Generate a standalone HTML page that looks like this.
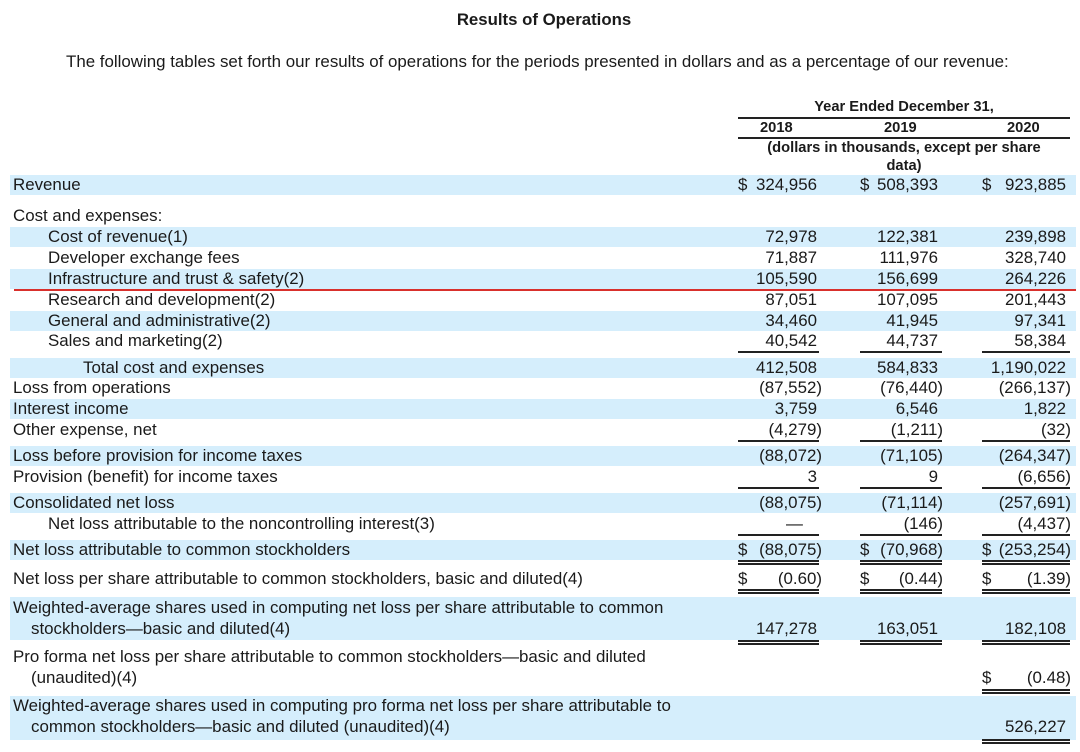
<!DOCTYPE html>
<html><head><meta charset="utf-8"><style>
body{margin:0;width:1080px;height:752px;background:#fff;position:relative;overflow:hidden;font-family:"Liberation Sans",Arial,sans-serif;font-size:16.9px;color:#1a1a1a}
div{position:absolute;white-space:nowrap;line-height:22px;margin-top:-1px}
.b{left:10px;width:1066px;background:#d5eefc;margin-top:0}
.ln{margin-top:0}
.v{width:140px;text-align:right}
.c1{left:677px}.c2{left:798px}.c3{left:926px}
.p{margin-right:-5px}
.ln{height:1.5px;background:#222}
.u1{left:738px;width:81px}.u2{left:860px;width:82px}.u3{left:982px;width:88px}
.h{font-weight:bold;font-size:14.7px}
</style></head><body>
<div class="h" style="left:0;width:1088px;text-align:center;top:10px;font-size:16.8px">Results of Operations</div>
<div style="left:66px;top:52px">The following tables set forth our results of operations for the periods presented in dollars and as a percentage of our revenue:</div>

<div class="h" style="left:738px;width:332px;text-align:center;top:97px">Year Ended December 31,</div>
<div class="ln" style="left:738px;width:332px;top:117px"></div>
<div class="h" style="left:760px;top:118px">2018</div>
<div class="h" style="left:884px;top:118px">2019</div>
<div class="h" style="left:1007px;top:118px">2020</div>
<div class="ln" style="left:738px;width:332px;top:137px"></div>
<div class="h" style="left:738px;width:332px;text-align:center;top:138px">(dollars in thousands, except per share</div>
<div class="h" style="left:738px;width:332px;text-align:center;top:156px">data)</div>

<!-- bands -->
<div class="b" style="top:175px;height:20px"></div>
<div class="b" style="top:227px;height:20px"></div>
<div class="b" style="top:269px;height:20px"></div>
<div class="b" style="top:311px;height:20px"></div>
<div class="b" style="top:358px;height:20px"></div>
<div class="b" style="top:399px;height:20px"></div>
<div class="b" style="top:446px;height:20px"></div>
<div class="b" style="top:493px;height:20px"></div>
<div class="b" style="top:540px;height:20px"></div>
<div class="b" style="top:597px;height:43px"></div>
<div class="b" style="top:696px;height:44px"></div>
<div style="left:14px;width:1062px;height:2px;background:#d9302c;top:289px;margin-top:0"></div>

<!-- labels -->
<div style="left:13px;top:175px">Revenue</div>
<div style="left:13px;top:206px">Cost and expenses:</div>
<div style="left:48px;top:227px">Cost of revenue(1)</div>
<div style="left:48px;top:248px">Developer exchange fees</div>
<div style="left:48px;top:269px">Infrastructure and trust &amp; safety(2)</div>
<div style="left:48px;top:290px">Research and development(2)</div>
<div style="left:48px;top:311px">General and administrative(2)</div>
<div style="left:48px;top:331px">Sales and marketing(2)</div>
<div style="left:83px;top:358px">Total cost and expenses</div>
<div style="left:13px;top:378px">Loss from operations</div>
<div style="left:13px;top:399px">Interest income</div>
<div style="left:13px;top:420px">Other expense, net</div>
<div style="left:13px;top:446px">Loss before provision for income taxes</div>
<div style="left:13px;top:467px">Provision (benefit) for income taxes</div>
<div style="left:13px;top:493px">Consolidated net loss</div>
<div style="left:48px;top:514px">Net loss attributable to the noncontrolling interest(3)</div>
<div style="left:13px;top:540px">Net loss attributable to common stockholders</div>
<div style="left:13px;top:569px">Net loss per share attributable to common stockholders, basic and diluted(4)</div>
<div style="left:13px;top:598px">Weighted-average shares used in computing net loss per share attributable to common</div>
<div style="left:31px;top:619px">stockholders—basic and diluted(4)</div>
<div style="left:13px;top:647px">Pro forma net loss per share attributable to common stockholders—basic and diluted</div>
<div style="left:31px;top:668px">(unaudited)(4)</div>
<div style="left:13px;top:696px">Weighted-average shares used in computing pro forma net loss per share attributable to</div>
<div style="left:31px;top:717px">common stockholders—basic and diluted (unaudited)(4)</div>

<!-- dollar signs -->
<div style="left:738px;top:175px">$</div><div style="left:860px;top:175px">$</div><div style="left:982px;top:175px">$</div>
<div style="left:738px;top:540px">$</div><div style="left:860px;top:540px">$</div><div style="left:982px;top:540px">$</div>
<div style="left:738px;top:569px">$</div><div style="left:860px;top:569px">$</div><div style="left:982px;top:569px">$</div>
<div style="left:982px;top:668px">$</div>

<!-- values -->
<div class="v c1" style="top:175px">324,956</div><div class="v c2" style="top:175px">508,393</div><div class="v c3" style="top:175px">923,885</div>
<div class="v c1" style="top:227px">72,978</div><div class="v c2" style="top:227px">122,381</div><div class="v c3" style="top:227px">239,898</div>
<div class="v c1" style="top:248px">71,887</div><div class="v c2" style="top:248px">111,976</div><div class="v c3" style="top:248px">328,740</div>
<div class="v c1" style="top:269px">105,590</div><div class="v c2" style="top:269px">156,699</div><div class="v c3" style="top:269px">264,226</div>
<div class="v c1" style="top:290px">87,051</div><div class="v c2" style="top:290px">107,095</div><div class="v c3" style="top:290px">201,443</div>
<div class="v c1" style="top:311px">34,460</div><div class="v c2" style="top:311px">41,945</div><div class="v c3" style="top:311px">97,341</div>
<div class="v c1" style="top:331px">40,542</div><div class="v c2" style="top:331px">44,737</div><div class="v c3" style="top:331px">58,384</div>
<div class="v c1" style="top:358px">412,508</div><div class="v c2" style="top:358px">584,833</div><div class="v c3" style="top:358px">1,190,022</div>
<div class="v c1" style="top:378px">(87,552<span class="p">)</span></div><div class="v c2" style="top:378px">(76,440<span class="p">)</span></div><div class="v c3" style="top:378px">(266,137<span class="p">)</span></div>
<div class="v c1" style="top:399px">3,759</div><div class="v c2" style="top:399px">6,546</div><div class="v c3" style="top:399px">1,822</div>
<div class="v c1" style="top:420px">(4,279<span class="p">)</span></div><div class="v c2" style="top:420px">(1,211<span class="p">)</span></div><div class="v c3" style="top:420px">(32<span class="p">)</span></div>
<div class="v c1" style="top:446px">(88,072<span class="p">)</span></div><div class="v c2" style="top:446px">(71,105<span class="p">)</span></div><div class="v c3" style="top:446px">(264,347<span class="p">)</span></div>
<div class="v c1" style="top:467px">3</div><div class="v c2" style="top:467px">9</div><div class="v c3" style="top:467px">(6,656<span class="p">)</span></div>
<div class="v c1" style="top:493px">(88,075<span class="p">)</span></div><div class="v c2" style="top:493px">(71,114<span class="p">)</span></div><div class="v c3" style="top:493px">(257,691<span class="p">)</span></div>
<div style="left:786px;top:514px">—</div><div class="v c2" style="top:514px">(146<span class="p">)</span></div><div class="v c3" style="top:514px">(4,437<span class="p">)</span></div>
<div class="v c1" style="top:540px">(88,075<span class="p">)</span></div><div class="v c2" style="top:540px">(70,968<span class="p">)</span></div><div class="v c3" style="top:540px">(253,254<span class="p">)</span></div>
<div class="v c1" style="top:569px">(0.60<span class="p">)</span></div><div class="v c2" style="top:569px">(0.44<span class="p">)</span></div><div class="v c3" style="top:569px">(1.39<span class="p">)</span></div>
<div class="v c1" style="top:619px">147,278</div><div class="v c2" style="top:619px">163,051</div><div class="v c3" style="top:619px">182,108</div>
<div class="v c3" style="top:668px">(0.48<span class="p">)</span></div>
<div class="v c3" style="top:717px">526,227</div>

<!-- underlines -->
<div class="ln u1" style="top:351px"></div><div class="ln u2" style="top:351px"></div><div class="ln u3" style="top:351px"></div>
<div class="ln u1" style="top:440px"></div><div class="ln u2" style="top:440px"></div><div class="ln u3" style="top:440px"></div>
<div class="ln u1" style="top:487px"></div><div class="ln u2" style="top:487px"></div><div class="ln u3" style="top:487px"></div>
<div class="ln u1" style="top:534px"></div><div class="ln u2" style="top:534px"></div><div class="ln u3" style="top:534px"></div>
<div class="ln u1" style="top:560px"></div><div class="ln u2" style="top:560px"></div><div class="ln u3" style="top:560px"></div>
<div class="ln u1" style="top:563px"></div><div class="ln u2" style="top:563px"></div><div class="ln u3" style="top:563px"></div>
<div class="ln u1" style="top:589px"></div><div class="ln u2" style="top:589px"></div><div class="ln u3" style="top:589px"></div>
<div class="ln u1" style="top:592px"></div><div class="ln u2" style="top:592px"></div><div class="ln u3" style="top:592px"></div>
<div class="ln u1" style="top:640px"></div><div class="ln u2" style="top:640px"></div><div class="ln u3" style="top:640px"></div>
<div class="ln u1" style="top:643px"></div><div class="ln u2" style="top:643px"></div><div class="ln u3" style="top:643px"></div>
<div class="ln u3" style="top:689px"></div><div class="ln u3" style="top:692px"></div>
<div class="ln u3" style="top:739px"></div><div class="ln u3" style="top:742px"></div>
</body></html>
